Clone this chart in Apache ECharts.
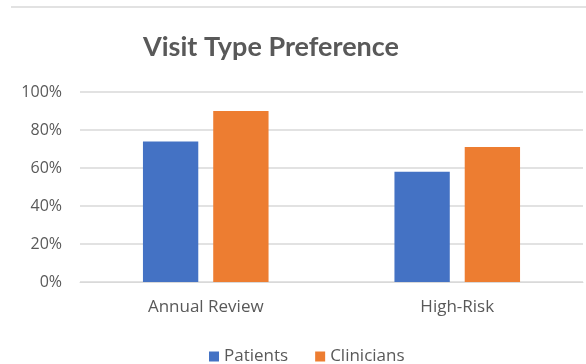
<!DOCTYPE html>
<html lang="en">
<head>
    <meta charset="UTF-8">
    <title>Visit Type Preference</title>
    <style type="text/css">
        html, body { margin: 0; padding: 0; background: #fff; }
        #main { width: 586px; height: 364px; }
    </style>
</head>
<body>
    <div id="main"></div>
    <script type="text/javascript" src="https://cdn.jsdelivr.net/npm/echarts@6/dist/echarts.min.js"></script>
    <script type="text/javascript">
    // chart data
    var categories = ['Annual Review', 'High-Risk'];
    var seriesNames = ['Patients', 'Clinicians'];
    var patients = [74, 58];
    var clinicians = [90, 71];
    var yTicks = [0, 20, 40, 60, 80, 100];

    var labelFont = '"Open Sans", sans-serif';
    var titleFont = 'Lato, "Open Sans", sans-serif';
    var textColor = '#595959';

    var myChart = echarts.init(document.getElementById('main'));

    var option = {
        animation: false,
        color: ['#4472C4', '#ED7D31'],
        title: {
            text: 'Visit Type Preference',
            left: 266,
            top: 29,
            textAlign: 'center',
            textStyle: {
                fontFamily: titleFont,
                fontSize: 27,
                fontWeight: 'bold',
                color: textColor
            }
        },
        // thin border line across the top of the chart area
        graphic: [{
            type: 'line',
            shape: { x1: 11, y1: 7, x2: 586, y2: 7 },
            style: { stroke: '#d9d9d9', lineWidth: 1.5 }
        }],
        legend: {
            data: seriesNames,
            top: 343,
            left: 204,
            itemWidth: 10,
            itemHeight: 10,
            itemGap: 27,
            icon: 'rect',
            textStyle: {
                fontFamily: labelFont,
                fontSize: 17,
                color: textColor
            }
        },
        grid: {
            left: 80,
            right: 3,
            top: 92,
            bottom: 82
        },
        xAxis: {
            type: 'category',
            data: categories,
            axisLine: { lineStyle: { color: '#d9d9d9' } },
            axisTick: { show: false },
            axisLabel: {
                margin: 17,
                fontFamily: labelFont,
                fontSize: 17,
                color: textColor
            }
        },
        yAxis: {
            type: 'value',
            min: yTicks[0],
            max: yTicks[yTicks.length - 1],
            interval: yTicks[1] - yTicks[0],
            axisLine: { show: false },
            axisTick: { show: false },
            splitLine: { lineStyle: { color: '#d9d9d9', width: 1.5 } },
            axisLabel: {
                margin: 18,
                fontFamily: labelFont,
                fontSize: 16,
                color: textColor,
                formatter: '{value}%'
            }
        },
        series: [{
            name: seriesNames[0],
            type: 'bar',
            barWidth: '22%',
            barGap: '27%',
            data: patients
        }, {
            name: seriesNames[1],
            type: 'bar',
            barWidth: '22%',
            data: clinicians
        }]
    };

    myChart.setOption(option);
    </script>
</body>
</html>
